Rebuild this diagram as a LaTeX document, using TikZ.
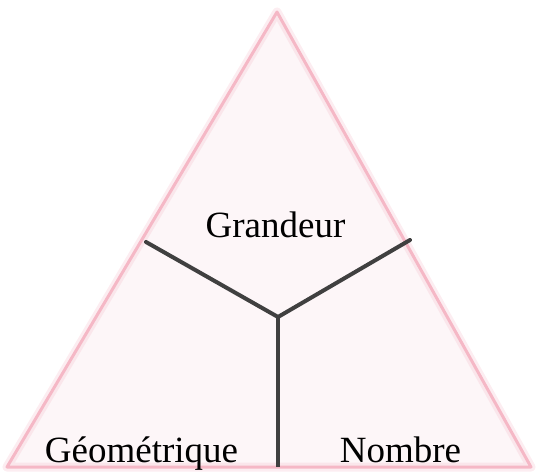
\documentclass[tikz,border=0pt]{standalone}
\usepackage{fontspec}
\setmainfont{Liberation Serif}
\definecolor{tripink}{HTML}{F5B8C6}
\definecolor{trifill}{HTML}{FDF6F8}
\definecolor{linegray}{HTML}{404040}
\begin{document}
\begin{tikzpicture}[x=1pt,y=-1pt,
  edgeglow/.style={draw=tripink,line width=9pt,opacity=0.25,line join=round},
  edgeline/.style={draw=tripink,line width=3pt,line join=round},
  branch/.style={draw=linegray,line width=4pt,line cap=round},
  lbl/.style={font=\fontsize{37}{41}\selectfont,anchor=base,inner sep=0pt}]
\useasboundingbox (0,0) rectangle (538,473);
\coordinate (apex) at (277,12);
\coordinate (bl) at (7,467);
\coordinate (br) at (531,467);
\fill[trifill] (apex) -- (bl) -- (br) -- cycle;
\path[edgeglow] (apex) -- (bl) -- (br) -- cycle;
\path[edgeline] (apex) -- (bl) -- (br) -- cycle;
\coordinate (c) at (278,317);
\coordinate (l) at (146,242);
\coordinate (r) at (410,240);
\coordinate (b) at (278,467);
\draw[branch] (c) -- (l);
\draw[branch] (c) -- (r);
\draw[branch,line cap=butt] (c) -- (b);
\node[lbl] (g) at (275.5,237) {Grandeur};
\node[lbl] (geo) at (141.5,462) {Géométrique};
\node[lbl] (n) at (400.5,462) {Nombre};
\end{tikzpicture}
\end{document}
